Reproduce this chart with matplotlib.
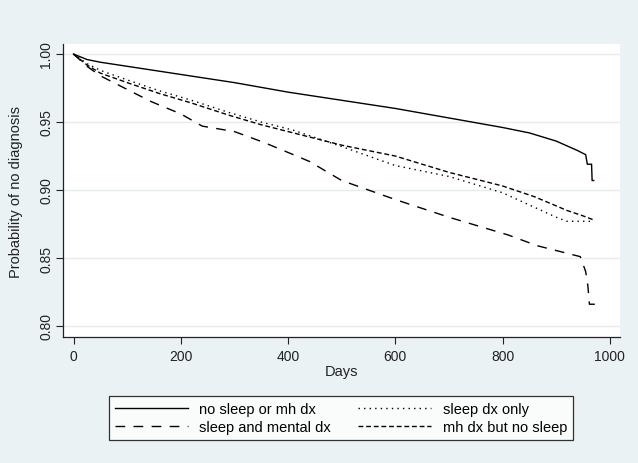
import numpy as np
import matplotlib
matplotlib.use('Agg')
import matplotlib.pyplot as plt

# Kaplan-Meier style survival estimates
days_none = [0, 25, 50, 100, 200, 300, 400, 500, 600, 700, 800, 850, 900, 940, 955, 958, 966, 967, 970]
surv_none = [1.0, 0.996, 0.994, 0.991, 0.985, 0.979, 0.972, 0.966, 0.960, 0.953, 0.946, 0.942, 0.936, 0.929, 0.926, 0.919, 0.919, 0.907, 0.907]

days_sleep = [0, 25, 50, 100, 160, 220, 290, 350, 410, 500, 600, 700, 800, 850, 900, 920, 970]
surv_sleep = [1.0, 0.993, 0.988, 0.981, 0.973, 0.966, 0.957, 0.950, 0.944, 0.932, 0.918, 0.910, 0.898, 0.889, 0.880, 0.877, 0.877]

days_both = [0, 25, 50, 90, 145, 200, 240, 300, 355, 410, 440, 500, 600, 700, 810, 865, 885, 945, 955, 959, 962, 972]
surv_both = [1.0, 0.991, 0.984, 0.976, 0.965, 0.956, 0.947, 0.943, 0.935, 0.926, 0.921, 0.907, 0.893, 0.880, 0.867, 0.859, 0.857, 0.851, 0.840, 0.830, 0.816, 0.816]

days_mh = [0, 25, 50, 100, 160, 220, 290, 350, 410, 500, 600, 700, 800, 860, 920, 950, 970]
surv_mh = [1.0, 0.992, 0.986, 0.979, 0.971, 0.964, 0.955, 0.948, 0.942, 0.933, 0.925, 0.913, 0.903, 0.895, 0.885, 0.881, 0.878]

x_ticks = [0, 200, 400, 600, 800, 1000]
y_ticks = [0.80, 0.85, 0.90, 0.95, 1.00]

bg = '#EAF2F3'
plt.rcParams['font.family'] = ['Liberation Sans', 'DejaVu Sans']

fig = plt.figure(figsize=(6.38, 4.64), dpi=100, facecolor=bg)
ax = fig.add_axes([63/638, 126/464, 557/638, 293/464])
ax.set_facecolor('white')

l1, = ax.plot(days_none, surv_none, color='black', lw=1.0, label='no sleep or mh dx')
l2, = ax.plot(days_sleep, surv_sleep, color='black', lw=1.0,
              linestyle=(0, (1, 3)), label='sleep dx only')
l3, = ax.plot(days_both, surv_both, color='black', lw=1.0,
              linestyle=(0, (7, 6)), label='sleep and mental dx')
l4, = ax.plot(days_mh, surv_mh, color='black', lw=1.0,
              linestyle=(0, (3.5, 2)), label='mh dx but no sleep')

ax.set_xlim(-19.6, 1019)
ax.set_ylim(0.7919, 1.0074)
ax.set_xticks(x_ticks)
ax.set_yticks(y_ticks)
ax.set_yticklabels(['%.2f' % v for v in y_ticks], rotation=90, va='center')
ax.tick_params(axis='both', labelsize=10, length=5, width=0.8, color='#222222', labelcolor='#222222')
ax.tick_params(axis='y', pad=2)
ax.yaxis.grid(True, color='#E3ECEF', lw=1.0)
ax.set_axisbelow(True)
for s in ['top', 'right']:
    ax.spines[s].set_visible(False)
for s in ['left', 'bottom']:
    ax.spines[s].set_color('#222222')
    ax.spines[s].set_linewidth(0.9)

ax.set_xlabel('Days', fontsize=10.5, color='#222222', labelpad=1)
ax.set_ylabel('Probability of no diagnosis', fontsize=10.5, color='#222222', labelpad=12)

leg = fig.legend([l1, l3, l2, l4],
                 ['no sleep or mh dx', 'sleep and mental dx', 'sleep dx only', 'mh dx but no sleep'],
                 ncol=2, loc='lower left', mode='expand',
                 bbox_to_anchor=(109/638, 23/464, 464/638, 52/464),
                 fontsize=10.5, frameon=True, fancybox=False, handlelength=5,
                 columnspacing=2.5, borderaxespad=0, labelspacing=0.3)
leg.get_frame().set_edgecolor('black')
leg.get_frame().set_linewidth(0.9)
leg.get_frame().set_facecolor('white')

fig.savefig('out.png', dpi=100, facecolor=bg)
